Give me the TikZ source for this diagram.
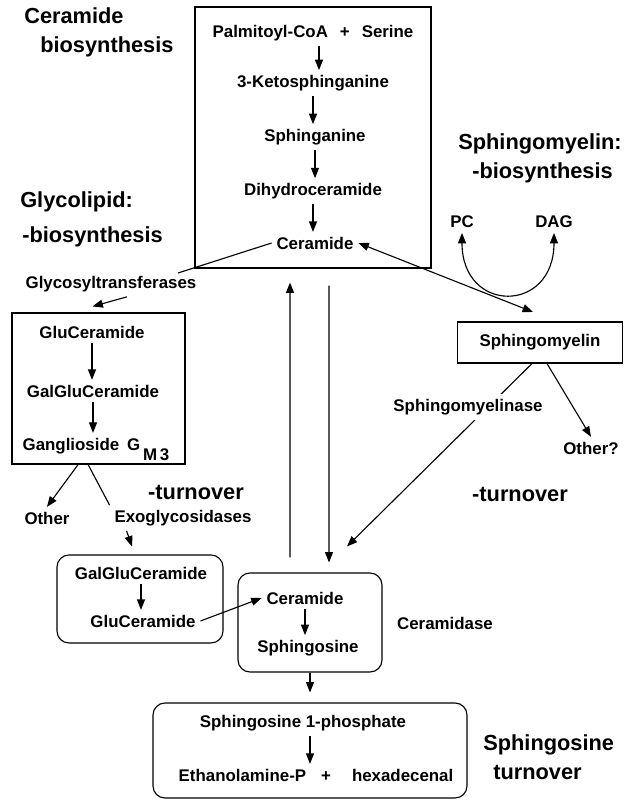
\documentclass[tikz,border=0pt]{standalone}
\usepackage{fontspec}
\setmainfont{Liberation Sans}
\usetikzlibrary{arrows.meta}
\tikzset{
  >={Triangle[length=2.6mm,width=2mm]},
  txt/.style={font=\fontsize{12}{14}\selectfont\bfseries},
  heading/.style={font=\fontsize{15.5}{20.6}\selectfont\bfseries,align=left,inner sep=0pt,anchor=north west},
  frame/.style={draw,thick},
  rframe/.style={draw,thick,rounded corners=3mm},
}
\begin{document}
\begin{tikzpicture}[x=0.25mm,y=-0.25mm]
  \useasboundingbox (0,0) rectangle (624,801);
  \node[heading] (hCer) at (24,7) {Ceramide\\\hspace*{4mm}biosynthesis};
  \node[heading] (hGly) at (20,191) {Glycolipid:\\[4.3pt]\hspace*{0.5mm}-biosynthesis};
  \node[heading] (hSm) at (458,133) {Sphingomyelin:\\\hspace*{3.5mm}-biosynthesis};
  \node[heading] (hSph) at (483,734) {Sphingosine\\\hspace*{2.5mm}turnover};
  \node[heading,anchor=center] (hTurnL) at (196,492) {-turnover};
  \node[heading,anchor=center] (hTurnR) at (520,494) {-turnover};
  % ceramide biosynthesis
  \node[frame,minimum width=59mm,minimum height=65.25mm] (synbox) at (313,137.5) {};
  \node[txt] (palm) at (313,33) {Palmitoyl-CoA\hspace{3mm}+\hspace{3mm}Serine};
  \node[txt] (keto) at (313,83) {3-Ketosphinganine};
  \node[txt] (sphga) at (315,137) {Sphinganine};
  \node[txt] (dihyd) at (313,191) {Dihydroceramide};
  \node[txt] (cerTop) at (315,243) {Ceramide};
  \draw[thick,->] ([xshift=1.5mm]palm.south) -- ([xshift=1.5mm]palm.south |- keto.north);
  \draw[thick,->] (keto) -- (keto |- sphga.north);
  \draw[thick,->] (sphga) -- (sphga |- dihyd.north);
  \draw[thick,->] (dihyd) -- (dihyd |- cerTop.north);
  % sphingomyelin
  \node[txt] (pc) at (462,222) {PC};
  \node[txt] (dag) at (554,222) {DAG};
  \node[frame,txt,minimum width=41.25mm,minimum height=10.25mm] (smbox) at (540,342.5) {Sphingomyelin};
  \node[txt] (otherQ) at (591,448) {Other?};
  \coordinate (smTip) at (533,312);
  \draw[thick,<->] (cerTop.east) -- (smTip);
  \draw[thick,<->] (pc.south) .. controls +(0,81) and +(0,81) .. (dag.south);
  \draw[thick,->] ([xshift=1.75mm]smbox.south) -- (otherQ.north);
  % glycolipids
  \coordinate (glyTip) at (178,273);
  \draw[thick] (cerTop.west) -- (glyTip);
  \node[txt] (glyco) at (111,284) {Glycosyltransferases};
  \node[frame,minimum width=43.25mm,minimum height=37.75mm] (glybox) at (98.5,388.5) {};
  \node[txt] (gluc1) at (92,332) {GluCeramide};
  \node[txt] (galg1) at (93,391) {GalGluCeramide};
  \node[txt] (gang) at (96,449) {Ganglioside\hspace{2mm}G\,\raisebox{-2.5mm}{M\,3}};
  \draw[thick,->] ([xshift=4mm]glyco.south) -- ([xshift=-1.5mm,yshift=1.5mm]glybox.north);
  \draw[thick,->] (gluc1) -- (gluc1 |- galg1.north);
  \draw[thick,->] (galg1) -- (galg1 |- gang.north);
  \node[txt] (other1) at (47,518) {Other};
  \node[txt] (exo) at (183,518) {Exoglycosidases};
  \draw[thick,->] ([xshift=-5.1mm]glybox.south) -- (other1.north);
  \draw[thick] ([xshift=-2.6mm]glybox.south) -- (exo.north west);
  % turnover
  \node[rframe,minimum width=41.5mm,minimum height=22mm] (gbox) at (140,599) {};
  \node[txt] (galg2) at (141,573) {GalGluCeramide};
  \node[txt] (gluc2) at (143,621) {GluCeramide};
  \draw[thick,->] (galg2) -- (galg2 |- gluc2.north);
  \draw[thick,->] ([xshift=4.25mm]exo.south west) -- ([xshift=-2mm,yshift=2mm]gbox.north);
  \node[rframe,minimum width=36mm,minimum height=24.75mm] (cerbox) at (310,622.5) {};
  \node[txt] (cer2) at (305,598) {Ceramide};
  \node[txt] (sphgs) at (308,648) {Sphingosine};
  \node[txt] (cdase) at (445,623) {Ceramidase};
  \draw[thick,->] (cer2) -- (cer2 |- sphgs.north);
  \draw[thick,->] (gluc2.east) -- (cer2.west);
  \draw[thick,->] ([xshift=-5mm,yshift=3.75mm]cerbox.north) -- ([xshift=-5.75mm,yshift=-3.5mm]synbox.south);
  \draw[thick,->] ([xshift=4mm,yshift=-4.25mm]synbox.south) -- ([xshift=4.75mm,yshift=2.5mm]cerbox.north);
  \draw[thick,->] ([xshift=-2mm]smbox.south) -- ([xshift=9.25mm,yshift=6.5mm]cerbox.north);
  \node[txt,fill=white] (smase) at (468,407) {Sphingomyelinase};
  % sphingosine turnover
  \node[rframe,minimum width=78.5mm,minimum height=23.75mm] (s1pbox) at (310,750.5) {};
  \node[txt] (s1p) at (303,723) {Sphingosine 1-phosphate};
  \node[txt] (ethan) at (316,775) {Ethanolamine-P\hspace{3.75mm}+\hspace{5.25mm}hexadecenal};
  \draw[thick,->] ([xshift=1.75mm]s1p.south) -- ([xshift=1.75mm]s1p.south |- ethan.north);
  \draw[thick,->] (cerbox.south) -- ([yshift=2.5mm]s1pbox.north);
\end{tikzpicture}
\end{document}
